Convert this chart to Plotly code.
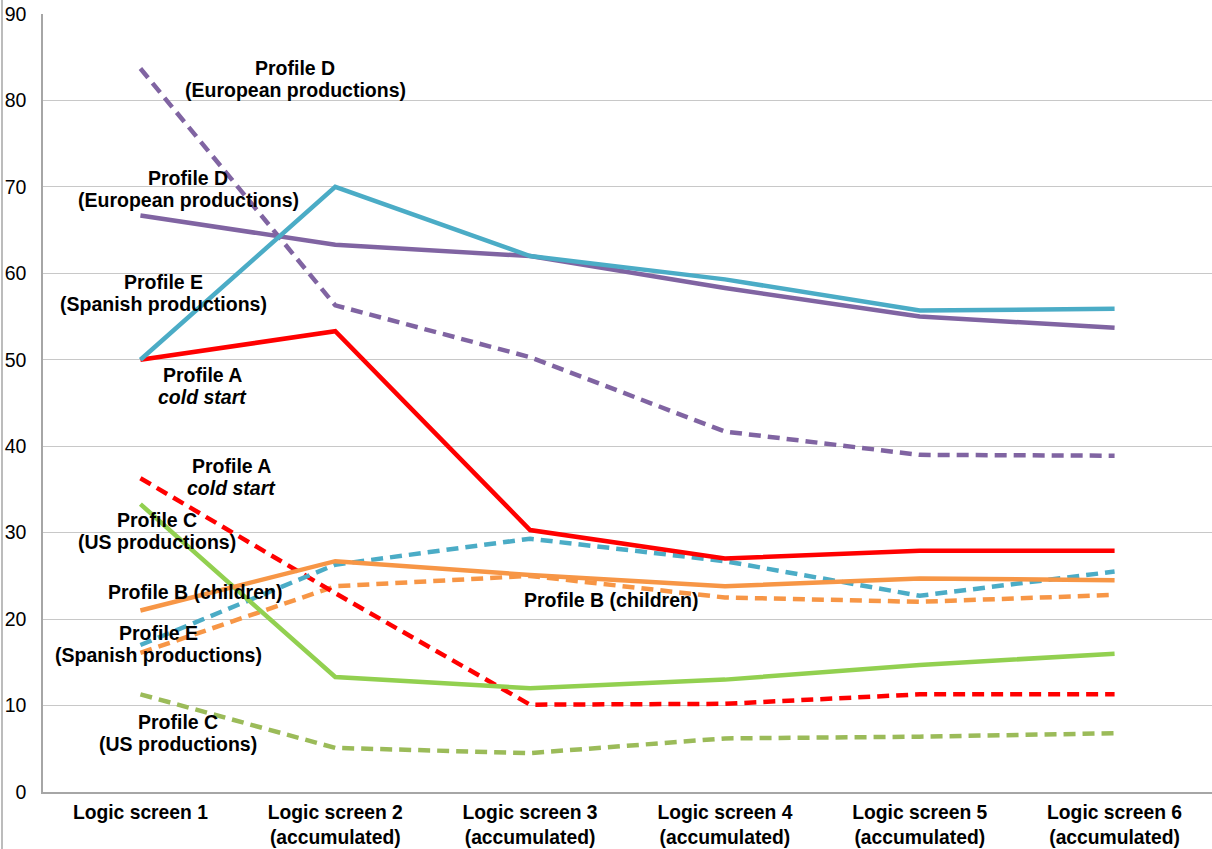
import plotly.graph_objects as go

categories = ["Logic screen 1", "Logic screen 2<br>(accumulated)", "Logic screen 3<br>(accumulated)",
              "Logic screen 4<br>(accumulated)", "Logic screen 5<br>(accumulated)", "Logic screen 6<br>(accumulated)"]

d_solid = [66.7, 63.3, 62.0, 58.3, 55.0, 53.7]
e_solid = [50.0, 70.0, 62.0, 59.3, 55.7, 55.9]
a_solid = [50.0, 53.3, 30.3, 27.0, 27.9, 27.9]
b_solid = [21.0, 26.7, 25.1, 23.8, 24.7, 24.5]
c_solid = [33.3, 13.3, 12.0, 13.0, 14.7, 16.0]
d_dash = [83.7, 56.3, 50.3, 41.7, 39.0, 38.9]
e_dash = [17.0, 26.3, 29.3, 26.7, 22.7, 25.5]
a_dash = [36.3, 23.0, 10.1, 10.2, 11.3, 11.3]
b_dash = [16.1, 23.8, 25.0, 22.5, 22.0, 22.8]
c_dash = [11.3, 5.1, 4.5, 6.2, 6.4, 6.8]

series = [
    ("Profile C dashed", c_dash, "#9BBB59", True),
    ("Profile B dashed", b_dash, "#F79646", True),
    ("Profile A dashed", a_dash, "#FF0000", True),
    ("Profile E dashed", e_dash, "#4BACC6", True),
    ("Profile D dashed", d_dash, "#8064A2", True),
    ("Profile C", c_solid, "#92D050", False),
    ("Profile B", b_solid, "#F79646", False),
    ("Profile A", a_solid, "#FF0000", False),
    ("Profile D", d_solid, "#8064A2", False),
    ("Profile E", e_solid, "#4BACC6", False),
]

xs = list(range(len(categories)))

fig = go.Figure()
for name, vals, color, dashed in series:
    fig.add_trace(go.Scatter(
        x=xs, y=vals, mode="lines", name=name,
        line=dict(color=color, width=4.5, dash="12px,7px" if dashed else "solid"),
        showlegend=False, hoverinfo="skip"))

# label lines: (x in category units, y in value units, text)
label_lines = [
    (0.795, 83.8, "<b>Profile D</b>"),
    (0.795, 81.2, "<b>(European productions)</b>"),
    (0.246, 71.0, "<b>Profile D</b>"),
    (0.246, 68.5, "<b>(European productions)</b>"),
    (0.118, 59.0, "<b>Profile E</b>"),
    (0.118, 56.45, "<b>(Spanish productions)</b>"),
    (0.318, 48.2, "<b>Profile A</b>"),
    (0.318, 45.7, "<b><i>cold start</i></b>"),
    (0.465, 37.7, "<b>Profile A</b>"),
    (0.47, 35.15, "<b><i>cold start</i></b>"),
    (0.087, 31.45, "<b>Profile C</b>"),
    (0.087, 28.95, "<b>(US productions)</b>"),
    (0.279, 23.15, "<b>Profile B (children)</b>"),
    (2.415, 22.2, "<b>Profile B (children)</b>"),
    (0.092, 18.35, "<b>Profile E</b>"),
    (0.092, 15.8, "<b>(Spanish productions)</b>"),
    (0.192, 8.1, "<b>Profile C</b>"),
    (0.192, 5.55, "<b>(US productions)</b>"),
]
for x, y, t in label_lines:
    fig.add_annotation(x=x, y=y, text=t, showarrow=False, xref="x", yref="y",
                       font=dict(family="Liberation Sans, Arial", size=19.5, color="#000000"),
                       align="center", xanchor="center", yanchor="middle")

# outer chart border line on the left
fig.add_shape(type="line", xref="paper", yref="paper",
              x0=(2 - 43) / 1169, x1=(2 - 43) / 1169, y0=-57 / 778, y1=1 + 14 / 778,
              line=dict(color="#A6A6A6", width=1.5))

fig.update_layout(
    width=1212, height=849,
    margin=dict(l=43, r=0, t=14, b=57),
    paper_bgcolor="white", plot_bgcolor="white",
    font=dict(family="Liberation Sans, Arial", color="#000000"),
    xaxis=dict(
        tickmode="array", tickvals=xs,
        ticktext=["<b>" + c.replace("<br>", "</b><br><b>") + "</b>" for c in categories],
        range=[-0.5, 5.5], showgrid=False, zeroline=False,
        showline=True, linecolor="#A6A6A6", linewidth=1.5,
        ticks="", tickfont=dict(size=19.3, family="Liberation Sans, Arial"),
        ticklabelstandoff=2,
    ),
    yaxis=dict(
        range=[0, 90], dtick=10, showgrid=True, gridcolor="#C8C8C8", gridwidth=1,
        zeroline=False, showline=True, linecolor="#A6A6A6", linewidth=1.5,
        ticks="", tickfont=dict(size=19.5, family="Liberation Sans, Arial"),
        ticklabelstandoff=11,
    ),
)

fig.write_html("out.html")
